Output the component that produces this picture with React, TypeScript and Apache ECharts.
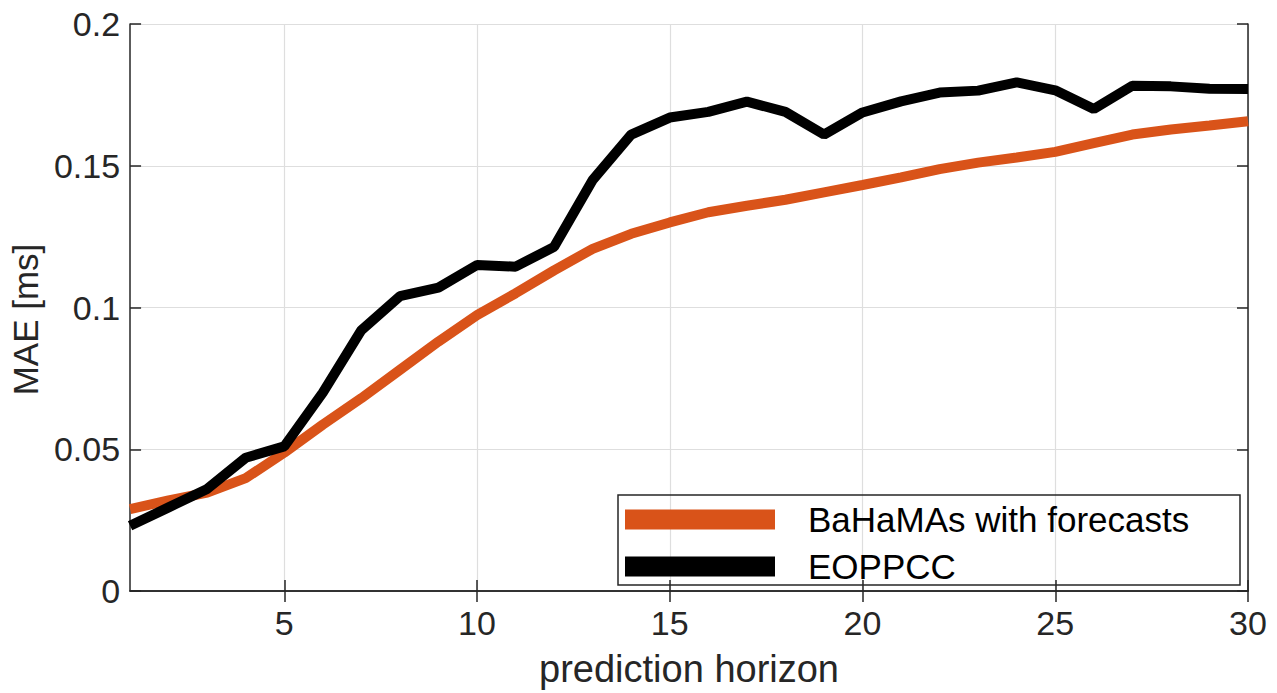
import React, { useEffect, useRef } from "react";
import * as echarts from "echarts";

const horizons = [1,2,3,4,5,6,7,8,9,10,11,12,13,14,15,16,17,18,19,20,21,22,23,24,25,26,27,28,29,30];
const bahamas = [0.0289,0.032,0.0347,0.0398,0.0488,0.0587,0.068,0.078,0.088,0.0973,0.105,0.1131,0.1207,0.126,0.13,0.1336,0.1359,0.138,0.1406,0.1432,0.1459,0.1488,0.1511,0.1529,0.1549,0.158,0.161,0.1628,0.1642,0.1657];
const eoppcc = [0.023,0.0295,0.036,0.047,0.051,0.07,0.092,0.104,0.107,0.115,0.1144,0.1214,0.145,0.161,0.167,0.169,0.1726,0.169,0.161,0.1688,0.1727,0.1758,0.1765,0.1794,0.1766,0.17,0.1782,0.178,0.1772,0.1771];
const xTicks = [5,10,15,20,25,30];
const seriesNames = ["BaHaMAs with forecasts", "EOPPCC"];

export default function App() {
  const ref = useRef<HTMLDivElement>(null);
  useEffect(() => {
    const chart = echarts.init(ref.current!, null, { renderer: "svg" });
    const font = "'Liberation Sans', Arial, sans-serif";
    const axisColor = "#262626";
    const gridColor = "#dedede";
    const tick = { show: true, inside: true, length: 11, lineStyle: { color: axisColor, width: 1.5 } };
    const line = { show: true, lineStyle: { color: axisColor, width: 1.5 } };
    chart.setOption({
      animation: false,
      backgroundColor: "#ffffff",
      grid: { left: 128, right: 29, top: 24, bottom: 99 },
      legend: {
        orient: "vertical",
        left: 620,
        top: 497,
        itemWidth: 150,
        itemHeight: 20,
        itemGap: 12,
        icon: "rect",
        data: seriesNames,
        textStyle: { fontFamily: font, fontSize: 35, color: "#000", padding: [0, 0, 0, 28] },
      },
      graphic: [
        {
          type: "rect",
          shape: { x: 618, y: 495, width: 622, height: 90 },
          style: { fill: "none", stroke: axisColor, lineWidth: 1.5 },
          z: 5,
        },
      ],
      xAxis: [
        {
          type: "value",
          min: 1,
          max: 30,
          name: "prediction horizon",
          nameLocation: "middle",
          nameGap: 59,
          nameTextStyle: { fontFamily: font, fontSize: 38, color: axisColor },
          axisLine: line,
          axisTick: { ...tick, customValues: xTicks },
          axisLabel: { fontFamily: font, fontSize: 34, color: axisColor, margin: 15, customValues: xTicks },
          splitLine: { show: true, lineStyle: { color: gridColor, width: 1.2 } },
        },
        {
          type: "value",
          position: "top",
          min: 1,
          max: 30,
          axisLine: line,
          axisTick: { ...tick, customValues: xTicks },
          axisLabel: { show: false },
          splitLine: { show: false },
        },
      ],
      yAxis: [
        {
          type: "value",
          min: 0,
          max: 0.2,
          interval: 0.05,
          name: "MAE [ms]",
          nameLocation: "middle",
          nameGap: 86,
          nameTextStyle: { fontFamily: font, fontSize: 35, color: axisColor, padding: [0, 24, 0, 0] },
          axisLine: line,
          axisTick: tick,
          axisLabel: { fontFamily: font, fontSize: 34, color: axisColor, margin: 10 },
          splitLine: { show: true, lineStyle: { color: gridColor, width: 1.2 } },
        },
        {
          type: "value",
          position: "right",
          min: 0,
          max: 0.2,
          interval: 0.05,
          axisLine: line,
          axisTick: tick,
          axisLabel: { show: false },
          splitLine: { show: false },
        },
      ],
      series: [
        {
          name: seriesNames[0],
          type: "line",
          showSymbol: false,
          symbol: "none",
          data: horizons.map((h, i) => [h, bahamas[i]]),
          lineStyle: { color: "#D95319", width: 10 },
          itemStyle: { color: "#D95319" },
          z: 3,
        },
        {
          name: seriesNames[1],
          type: "line",
          showSymbol: false,
          symbol: "none",
          data: horizons.map((h, i) => [h, eoppcc[i]]),
          lineStyle: { color: "#000000", width: 10 },
          itemStyle: { color: "#000000" },
          z: 4,
        },
      ],
    });
    return () => chart.dispose();
  }, []);
  return (
    <div
      ref={ref}
      style={{ position: "fixed", left: 0, top: 0, width: 1277, height: 693, background: "#fff" }}
    />
  );
}
